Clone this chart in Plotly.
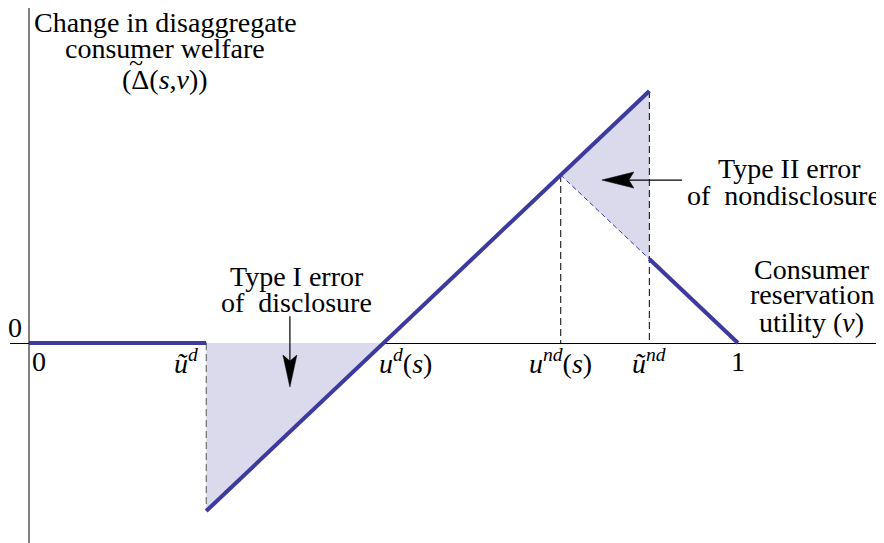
import plotly.graph_objects as go

# welfare curve pieces (v, change in welfare)
v_flat = [0.0, 0.25]
w_flat = [0.0, 0.0]
v_rise = [0.25, 0.875]
w_rise = [-0.5, 0.75]
v_fall = [0.875, 1.0]
w_fall = [0.25, 0.0]
v_nd_dash = [0.75, 0.875]
w_nd_dash = [0.5, 0.25]

# shaded error regions
type1_v = [0.25, 0.5, 0.25]
type1_w = [0.0, 0.0, -0.5]
type2_v = [0.75, 0.875, 0.875]
type2_w = [0.5, 0.75, 0.25]

# dashed guides
guide_v = [0.25, 0.75, 0.875]
guide_top = [0.0, 0.5, 0.75]
guide_bottom = [-0.5, 0.0, 0.0]
guide_colors = ['#555555', 'black', 'black']

# axis tick labels under the v axis
tick_v = [0.0, 0.25, 0.5, 0.75, 0.875, 1.0]
tick_labels = ['0',
               '<i>ũ</i><sup><i>d</i></sup>',
               '<i>u</i><sup><i>d</i></sup>(<i>s</i>)',
               '<i>u</i><sup><i>nd</i></sup>(<i>s</i>)',
               '<i>ũ</i><sup><i>nd</i></sup>',
               '1']
tick_xshift = [10, -20, 22, 0, 0, 0]

LINE = '#3c3a9e'
FILL = 'rgb(218,218,236)'
FONT = 'Liberation Serif'

fig = go.Figure()

fig.add_trace(go.Scatter(x=type1_v, y=type1_w, fill='toself', fillcolor=FILL,
                         mode='none', hoverinfo='skip'))
fig.add_trace(go.Scatter(x=type2_v, y=type2_w, fill='toself', fillcolor=FILL,
                         mode='none', hoverinfo='skip'))

for gx, gt, gb, gc in zip(guide_v, guide_top, guide_bottom, guide_colors):
    fig.add_trace(go.Scatter(x=[gx, gx], y=[gt, gb], mode='lines',
                             line=dict(color=gc, width=1, dash='7px,4px'),
                             hoverinfo='skip'))

fig.add_trace(go.Scatter(x=v_nd_dash, y=w_nd_dash, mode='lines',
                         line=dict(color=LINE, width=1, dash='5px,3px'),
                         hoverinfo='skip'))

for vx, wy in [(v_flat, w_flat), (v_rise, w_rise), (v_fall, w_fall)]:
    fig.add_trace(go.Scatter(x=vx, y=wy, mode='lines',
                             line=dict(color=LINE, width=4),
                             hoverinfo='skip'))

annotations = []

def label(text, x, y, xshift=0, yshift=0, size=28):
    annotations.append(dict(text=text, x=x, y=y, xref='x', yref='y',
                            showarrow=False, xanchor='center', yanchor='middle',
                            xshift=xshift, yshift=yshift,
                            font=dict(family=FONT, size=size, color='black')))

for tv, tl, xs in zip(tick_v, tick_labels, tick_xshift):
    label(tl, tv, 0, xshift=xs, yshift=-18)

label('0', 0, 0, xshift=-14, yshift=16)

# y axis title (tilde placed over the delta by hand)
label('Change in disaggregate', 0.192, 0.953)
label('consumer welfare', 0.192, 0.877)
label('(Δ(<i>s</i>,<i>v</i>))', 0.192, 0.785)
label('~', 0.192, 0.835, xshift=-29, size=26)

# x axis title
label('Consumer', 1.104, 0.220)
label('reservation', 1.104, 0.143)
label('utility (<i>v</i>)', 1.104, 0.0625)

# error captions
label('Type I error', 0.378, 0.198)
label('of  disclosure', 0.378, 0.121)
label('Type II error', 1.0733, 0.518)
label('of  nondisclosure', 1.0649, 0.440)

# arrows: shaft as a line, head as a pixel-sized path
shapes = [
    dict(type='line', x0=0.368, y0=0.08, x1=0.368, y1=-0.12,
         line=dict(color='black', width=1.2)),
    dict(type='path', xsizemode='pixel', ysizemode='pixel',
         xanchor=0.368, yanchor=-0.131,
         path='M0,0 L-7,32 L0,26 L7,32 Z',
         fillcolor='black', line=dict(color='black', width=0.5)),
    dict(type='line', x0=0.921, y0=0.485, x1=0.82, y1=0.485,
         line=dict(color='black', width=1.2)),
    dict(type='path', xsizemode='pixel', ysizemode='pixel',
         xanchor=0.808, yanchor=0.485,
         path='M0,0 L32,8 L27,0 L32,-8 Z',
         fillcolor='black', line=dict(color='black', width=0.5)),
]

# page body adds an 8px offset, so the figure is 8px smaller than the window
fig.update_layout(
    width=876, height=535,
    margin=dict(l=2, r=0, t=0, b=0),
    paper_bgcolor='white', plot_bgcolor='white',
    showlegend=False,
    xaxis=dict(range=[-0.0268, 1.206], showgrid=False, showticklabels=False,
               zeroline=True, zerolinecolor='#808080', zerolinewidth=2,
               ticks='', fixedrange=True),
    yaxis=dict(range=[-0.595, 0.997], showgrid=False, showticklabels=False,
               zeroline=True, zerolinecolor='black', zerolinewidth=1,
               ticks='', fixedrange=True),
    annotations=annotations,
    shapes=shapes,
)

fig.write_html('out.html')
